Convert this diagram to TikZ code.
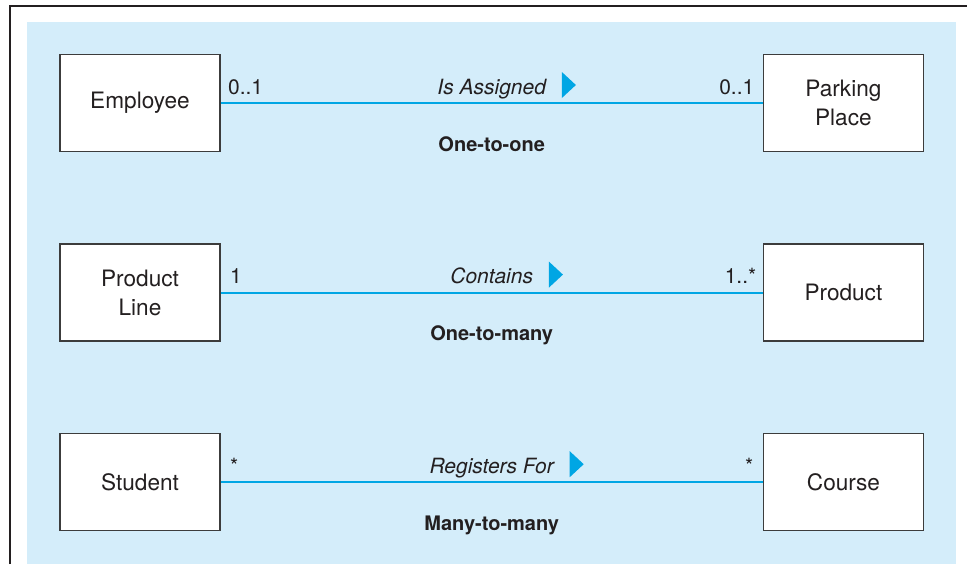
\documentclass[tikz,border=0pt]{standalone}
\usepackage{fontspec}
\setmainfont{TeX Gyre Heros}
\usetikzlibrary{positioning}
\definecolor{PanelBlue}{RGB}{212,237,250}
\definecolor{LinkBlue}{RGB}{0,166,228}
\definecolor{InkGray}{RGB}{35,31,32}
\definecolor{BoxGray}{RGB}{60,60,60}

\begin{document}
\begin{tikzpicture}[x=0.5pt,y=0.5pt,
    every node/.style={text=InkGray},
    classbox/.style={draw=BoxGray,line width=0.7pt,fill=white,minimum width=80pt,
      minimum height=48.5pt,align=center,font=\fontsize{11.3}{14.6}\selectfont},
    mult/.style={inner sep=0pt,font=\fontsize{10.5}{12}\selectfont},
    assoc/.style={inner sep=0pt,anchor=base,yshift=4.5pt,font=\fontsize{10.5}{12}\selectfont\itshape},
    kind/.style={inner sep=0pt,anchor=base,yshift=-24pt,font=\fontsize{10}{12}\selectfont\bfseries},
    link/.style={LinkBlue,line width=0.9pt},
    dirmark/.style={fill=LinkBlue}]
  \useasboundingbox (0,0) rectangle (967,564);
  \fill[PanelBlue] (27,0) rectangle (956,542);
  \draw[InkGray,line width=1.3pt] (10,0) -- (10,558) -- (967,558);

  \node[classbox] (emp) at (140,461) {Employee};
  \node[classbox,right=271pt of emp] (park) {Parking\\Place};
  \node[classbox,below=45.6pt of emp] (pline) {Product\\Line};
  \node[classbox,right=271pt of pline] (prod) {Product};
  \node[classbox,below=45.6pt of pline] (stud) {Student};
  \node[classbox,right=271pt of stud] (course) {Course};

  \draw[link] (emp) -- (park)
    node[midway,assoc] (isa) {Is Assigned}
    node[midway,kind] (onetoone) {One-to-one};
  \draw[link] (pline) -- (prod)
    node[midway,assoc] (cont) {Contains}
    node[midway,kind] (onetomany) {One-to-many};
  \draw[link] (stud) -- (course)
    node[midway,assoc] (regf) {Registers For}
    node[midway,kind] (manytomany) {Many-to-many};

  \fill[dirmark] ([xshift=7.5pt,yshift=-2pt]isa.base east) -- ++(0,26) -- ++(14,-13) -- cycle;
  \fill[dirmark] ([xshift=7.5pt,yshift=-2pt]cont.base east) -- ++(0,26) -- ++(14,-13) -- cycle;
  \fill[dirmark] ([xshift=7.5pt,yshift=-2pt]regf.base east) -- ++(0,26) -- ++(14,-13) -- cycle;

  \node[mult,anchor=base west] (empm) at ([xshift=3.5pt,yshift=4.5pt]emp.east) {0..1};
  \node[mult,anchor=base east] (parkm) at ([xshift=-4pt,yshift=4.5pt]park.west) {0..1};
  \node[mult,anchor=base west] (plinem) at ([xshift=4.5pt,yshift=4.5pt]pline.east) {1};
  \node[mult,anchor=base east] (prodm) at ([xshift=-3pt,yshift=4.5pt]prod.west) {1..*};
  \node[mult,anchor=base west] (studm) at ([xshift=4.5pt,yshift=4.5pt]stud.east) {*};
  \node[mult,anchor=base east] (coursem) at ([xshift=-4.5pt,yshift=4.5pt]course.west) {*};
\end{tikzpicture}
\end{document}
